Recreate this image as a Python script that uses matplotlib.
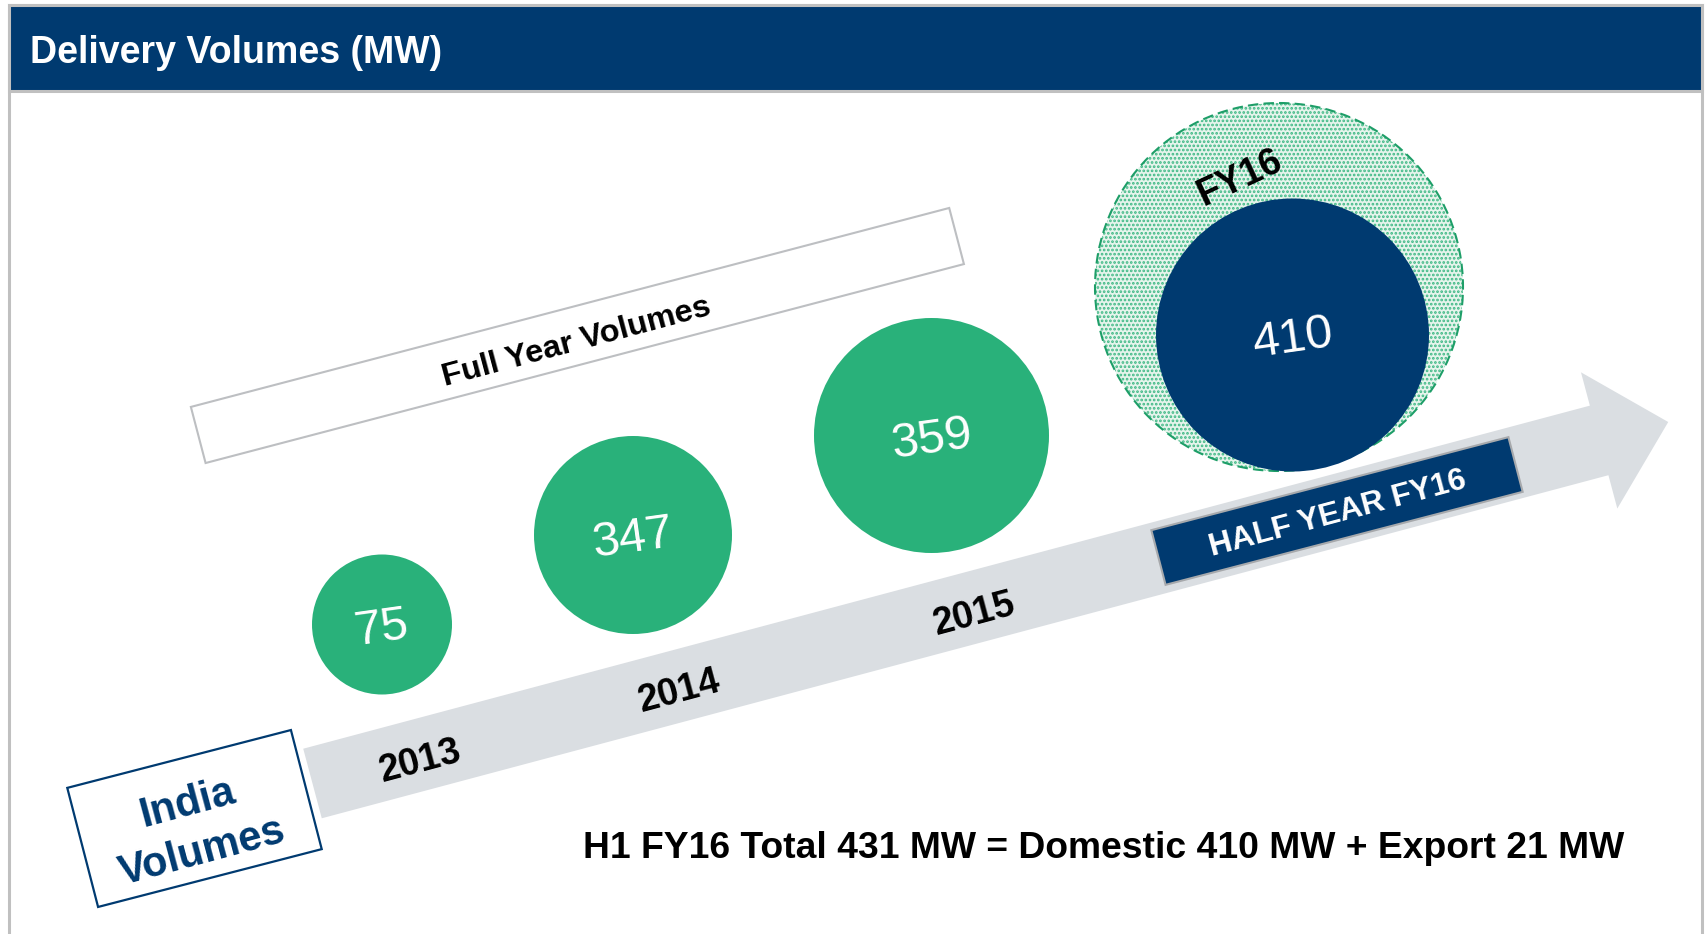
import numpy as np
import matplotlib
matplotlib.use('Agg')
import matplotlib.pyplot as plt
from matplotlib.patches import Circle, Polygon, Rectangle

plt.rcParams['font.family'] = ['Liberation Sans', 'DejaVu Sans']
plt.rcParams['hatch.linewidth'] = 1.3

# data
years = ['2013', '2014', '2015']
volumes = [75, 347, 359]
h1_label = 'FY16'
h1_domestic = 410
h1_export = 21

# layout (image pixels, y down)
circle_x = [382, 633, 931.5]
circle_y = [624.5, 535, 435.5]
circle_r = [70, 99, 117.5]
year_x = [420, 679, 974]
year_y = [762, 692, 615]

navy = '#003A70'
green = '#29B17A'
grey_band = '#DADEE2'
frame_grey = '#C0C0C0'


def rot_pts(cx, cy, ang, pts):
    a = np.radians(ang)
    out = []
    for s, t in pts:
        out.append((cx + s * np.cos(a) + t * np.sin(a), cy - s * np.sin(a) + t * np.cos(a)))
    return out


def rot_box(cx, cy, length, height, ang):
    h, w = height / 2, length / 2
    return rot_pts(cx, cy, ang, [(-w, -h), (w, -h), (w, h), (-w, h)])


fig = plt.figure(figsize=(17.05, 9.34), dpi=100)
ax = fig.add_axes([0, 0, 1, 1])
ax.set_xlim(0, 1705)
ax.set_ylim(934, 0)
ax.axis('off')

# frame and header
ax.add_patch(Rectangle((9, 5), 1693, 960, facecolor='white', edgecolor=frame_grey, lw=2.2, zorder=0))
ax.add_patch(Rectangle((9, 5), 1693, 86, facecolor=navy, edgecolor=frame_grey, lw=2.2, zorder=1))
ax.text(30, 53, 'Delivery Volumes (MW)', color='white', fontsize=27, fontweight='bold',
        ha='left', va='center', zorder=2)

# big grey arrow
arr_ang = 14.93
shaft_len, shaft_w, head_w, head_len = 1331.6, 72, 141, 71.5
arrow_local = [(0, -shaft_w / 2), (shaft_len, -shaft_w / 2), (shaft_len, -head_w / 2),
               (shaft_len + head_len, 0), (shaft_len, head_w / 2), (shaft_len, shaft_w / 2),
               (0, shaft_w / 2)]
ax.add_patch(Polygon(rot_pts(312.5, 783.5, arr_ang, arrow_local), closed=True,
                     facecolor=grey_band, edgecolor='none', zorder=2))

# India Volumes box
ax.add_patch(Polygon(rot_box(194.5, 818.5, 231, 123, 14.5), closed=True,
                     facecolor='white', edgecolor=navy, lw=1.6, zorder=3))
ax.text(187, 804, 'India', color=navy, fontsize=30, fontweight='bold', rotation=15,
        rotation_mode='anchor', ha='center', va='center', zorder=4)
ax.text(202, 852, 'Volumes', color=navy, fontsize=30, fontweight='bold', rotation=15,
        rotation_mode='anchor', ha='center', va='center', zorder=4)

# Full Year Volumes label box
ax.add_patch(Polygon(rot_box(577.4, 335.5, 784, 58, 14.7), closed=True,
                     facecolor='white', edgecolor='#BDBFC2', lw=1.5, zorder=3))
ax.text(577, 342, 'Full Year Volumes', color='black', fontsize=23.4, fontweight='bold',
        rotation=15, rotation_mode='anchor', ha='center', va='center', zorder=4)

# yearly circles
for yr, v, cx, cy, r, tx, ty in zip(years, volumes, circle_x, circle_y, circle_r, year_x, year_y):
    ax.add_patch(Circle((cx, cy), r, facecolor=green, edgecolor='none', zorder=3))
    ax.text(cx, cy + 4, str(v), color='white', fontsize=35, rotation=8,
            rotation_mode='anchor', ha='center', va='center', zorder=4)
    ax.text(tx, ty, yr, color='black', fontsize=27, fontweight='bold', rotation=15,
            rotation_mode='anchor', ha='center', va='center', zorder=4)

# FY16 stippled circle with half-year circle on top
ax.add_patch(Circle((1279, 287), 184, facecolor='#E6F4EC', edgecolor='#3DB884', hatch='....',
                    lw=0, zorder=3))
ax.add_patch(Circle((1279, 287), 184, fill=False, edgecolor='#1E9E68', lw=1.5,
                    linestyle=(0, (5, 2.5)), zorder=4))
ax.text(1240, 178, h1_label, color='black', fontsize=27, fontweight='bold', rotation=25,
        rotation_mode='anchor', ha='center', va='center', zorder=5)
ax.add_patch(Circle((1292.5, 335), 136.5, facecolor=navy, edgecolor='none', zorder=5))
ax.text(1293, 339, str(h1_domestic), color='white', fontsize=35, rotation=8,
        rotation_mode='anchor', ha='center', va='center', zorder=6)

# HALF YEAR FY16 tag on arrow
ax.add_patch(Polygon(rot_box(1337, 511, 369, 56.5, 14.6), closed=True,
                     facecolor=navy, edgecolor='#A7A9AC', lw=1.5, zorder=5))
ax.text(1338, 514, 'HALF YEAR ' + h1_label, color='white', fontsize=22.8, fontweight='bold',
        rotation=15, rotation_mode='anchor', ha='center', va='center', zorder=6)

# footnote
total = h1_domestic + h1_export
ax.text(1103.5, 848, f'H1 {h1_label} Total {total} MW = Domestic {h1_domestic} MW + Export {h1_export} MW',
        color='black', fontsize=26.8, fontweight='bold', ha='center', va='center', zorder=4)

fig.savefig('out.png', dpi=100)
